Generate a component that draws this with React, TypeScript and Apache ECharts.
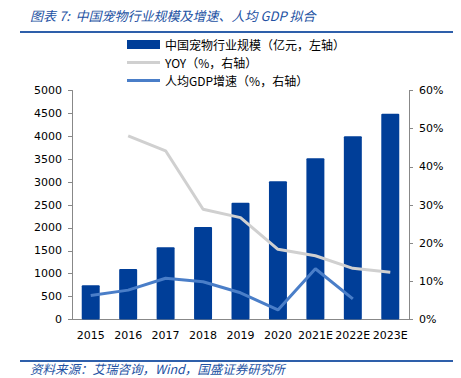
import React, { useEffect, useRef } from "react";
import * as echarts from "echarts";

const categories = ["2015", "2016", "2017", "2018", "2019", "2020", "2021E", "2022E", "2023E"];
const marketSize = [750, 1100, 1580, 2020, 2550, 3020, 3520, 4000, 4490];
const yoy = [null, 48.1, 44.2, 28.9, 26.7, 18.4, 16.7, 13.4, 12.4];
const gdpGrowth = [6.3, 7.7, 10.8, 9.9, 7.0, 2.5, 13.3, 5.4, null];
const leftTicks = { min: 0, max: 5000, interval: 500 };
const rightTicks = { min: 0, max: 60, interval: 10 };
const seriesNames = ["中国宠物行业规模（亿元，左轴）", "YOY（%，右轴）", "人均GDP增速（%，右轴）"];
const titleText = "图表 7:  中国宠物行业规模及增速、人均 GDP 拟合";
const sourceText = "资料来源：艾瑞咨询，Wind，国盛证券研究所";

const lineIcon = "path://M0,0L110,0L110,10L0,10Z";

export default function App() {
  const ref = useRef<HTMLDivElement>(null);
  useEffect(() => {
    const chart = echarts.init(ref.current!, null, { renderer: "svg" });
    const axisFont = { fontFamily: "DejaVu Sans", fontSize: 11, color: "#000" };
    chart.setOption({
      animation: false,
      backgroundColor: "#fff",
      grid: { left: 72, right: 52, top: 90.5, bottom: 58.5 },
      legend: {
        orient: "vertical",
        left: 122,
        top: 33,
        itemWidth: 33,
        itemHeight: 9,
        itemGap: 5,
        textStyle: { fontFamily: "Noto Sans CJK SC", fontSize: 12, lineHeight: 13, color: "#000" },
        data: [
          { name: seriesNames[0], icon: "rect" },
          { name: seriesNames[1], icon: lineIcon },
          { name: seriesNames[2], icon: lineIcon },
        ],
      },
      xAxis: {
        type: "category",
        data: categories,
        axisLine: { lineStyle: { color: "#888" } },
        axisTick: { inside: true, length: 4, lineStyle: { color: "#888" } },
        axisLabel: { ...axisFont, margin: 10, interval: 0 },
      },
      yAxis: [
        {
          type: "value",
          ...leftTicks,
          position: "left",
          axisLine: { show: true, lineStyle: { color: "#888" } },
          axisTick: { show: true, length: 4, lineStyle: { color: "#888" } },
          axisLabel: { ...axisFont, margin: 10, formatter: (v: number) => String(v) },
          splitLine: { show: false },
        },
        {
          type: "value",
          ...rightTicks,
          position: "right",
          axisLine: { show: true, lineStyle: { color: "#888" } },
          axisTick: { show: true, length: 4, lineStyle: { color: "#888" } },
          axisLabel: { ...axisFont, margin: 10, formatter: "{value}%" },
          splitLine: { show: false },
        },
      ],
      series: [
        {
          name: seriesNames[0],
          type: "bar",
          data: marketSize,
          barWidth: "48%",
          itemStyle: { color: "#003e98", borderRadius: 1 },
        },
        {
          name: seriesNames[1],
          type: "line",
          yAxisIndex: 1,
          data: yoy,
          symbol: "none",
          lineStyle: { color: "#d0d0d0", width: 3 },
          itemStyle: { color: "#d0d0d0" },
        },
        {
          name: seriesNames[2],
          type: "line",
          yAxisIndex: 1,
          data: gdpGrowth,
          symbol: "none",
          lineStyle: { color: "#4a7ec8", width: 3 },
          itemStyle: { color: "#4a7ec8" },
        },
      ],
      graphic: [
        {
          type: "text",
          left: 30,
          top: 9,
          style: {
            text: titleText,
            fill: "#2352a3",
            font: "italic 13px 'Noto Sans CJK SC'",
          },
        },
        {
          type: "line",
          shape: { x1: 20, y1: 32, x2: 453, y2: 32 },
          style: { stroke: "#2e5faa", lineWidth: 2 },
        },
        {
          type: "line",
          shape: { x1: 20, y1: 361, x2: 453, y2: 361 },
          style: { stroke: "#2e5faa", lineWidth: 2 },
        },
        {
          type: "text",
          left: 30,
          top: 362,
          style: {
            text: sourceText,
            fill: "#2352a3",
            font: "italic 12.5px 'Noto Sans CJK SC'",
          },
        },
      ],
    });
    return () => chart.dispose();
  }, []);
  return <div ref={ref} style={{ width: 461, height: 378, position: "absolute", left: 0, top: 0 }} />;
}
